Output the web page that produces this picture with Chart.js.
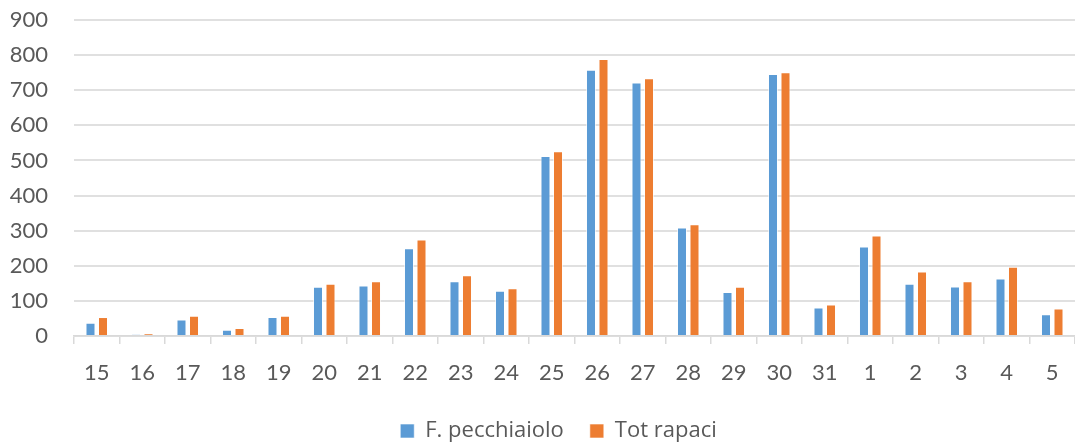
<!DOCTYPE html>
<html>
<head>
<meta charset="utf-8">
<script src="https://cdn.jsdelivr.net/npm/chart.js@4"></script>
<style>
  html, body { margin: 0; padding: 0; background: #fff; }
  #wrap { width: 1075px; height: 443px; }
</style>
</head>
<body>
<div id="wrap"><canvas id="c" width="1075" height="443"></canvas></div>
<script>
// Giorni di osservazione (15..31, poi 1..5 del mese successivo)
const giorni = ['15','16','17','18','19','20','21','22','23','24','25','26','27','28','29','30','31','1','2','3','4','5'];

// Conteggi giornalieri
const pecchiaiolo = [38, 4, 47, 18, 54, 140, 144, 250, 156, 129, 513, 758, 722, 309, 125, 746, 81, 255, 149, 141, 164, 62];
const totRapaci   = [54, 7, 58, 23, 58, 149, 156, 275, 173, 136, 526, 789, 734, 318, 140, 751, 90, 286, 184, 156, 197, 78];

const yTicks = [0, 100, 200, 300, 400, 500, 600, 700, 800, 900];

const textColor = '#595959';
const axisFont = 'Lato, "Open Sans", "Liberation Sans", sans-serif';
const legendFont = '"Open Sans", Lato, "Liberation Sans", sans-serif';

// nudge the legend row a little to the left of the plot centre
const legendShift = {
  id: 'legendShift',
  afterLayout(chart) {
    if (chart.legend) chart.legend.left -= 32;
  }
};

new Chart(document.getElementById('c'), {
  type: 'bar',
  data: {
    labels: giorni,
    datasets: [
      { label: 'F. pecchiaiolo', data: pecchiaiolo, backgroundColor: '#5B9BD5', borderColor: 'rgba(255,255,255,0.6)', borderWidth: 1 },
      { label: 'Tot rapaci', data: totRapaci, backgroundColor: '#ED7D31', borderColor: 'rgba(255,255,255,0.6)', borderWidth: 1 }
    ]
  },
  plugins: [legendShift],
  options: {
    responsive: false,
    animation: false,
    devicePixelRatio: 1,
    datasets: { bar: { categoryPercentage: 0.55, barPercentage: 0.8 } },
    // the legend sits partly below the canvas edge
    layout: { padding: { top: 0, left: 0, right: 0, bottom: -9 } },
    plugins: {
      tooltip: { enabled: false },
      legend: {
        position: 'bottom',
        fullSize: false,
        labels: {
          color: textColor,
          font: { family: legendFont, size: 22 },
          boxWidth: 14,
          boxHeight: 14,
          padding: 26
        }
      }
    },
    scales: {
      x: {
        grid: {
          offset: true,
          drawOnChartArea: false,
          drawTicks: true,
          tickLength: 8,
          color: '#d9d9d9',
          lineWidth: 1.5
        },
        border: { color: '#d9d9d9', width: 1.5 },
        ticks: {
          color: textColor,
          font: { family: axisFont, size: 22 },
          padding: 16,
          maxRotation: 0,
          autoSkip: false
        },
        afterFit(scale) { scale.height = 58; }
      },
      y: {
        min: 0,
        max: 900,
        afterBuildTicks(scale) { scale.ticks = yTicks.map(v => ({ value: v })); },
        grid: { color: '#e0e0e0', lineWidth: 2, drawTicks: false },
        border: { display: false },
        ticks: {
          color: textColor,
          font: { family: axisFont, size: 22 },
          padding: 26
        },
        afterFit(scale) {
          scale.width = 74;
          scale.paddingTop = 20;
          scale.paddingBottom = 0;
        }
      }
    }
  }
});
</script>
</body>
</html>
